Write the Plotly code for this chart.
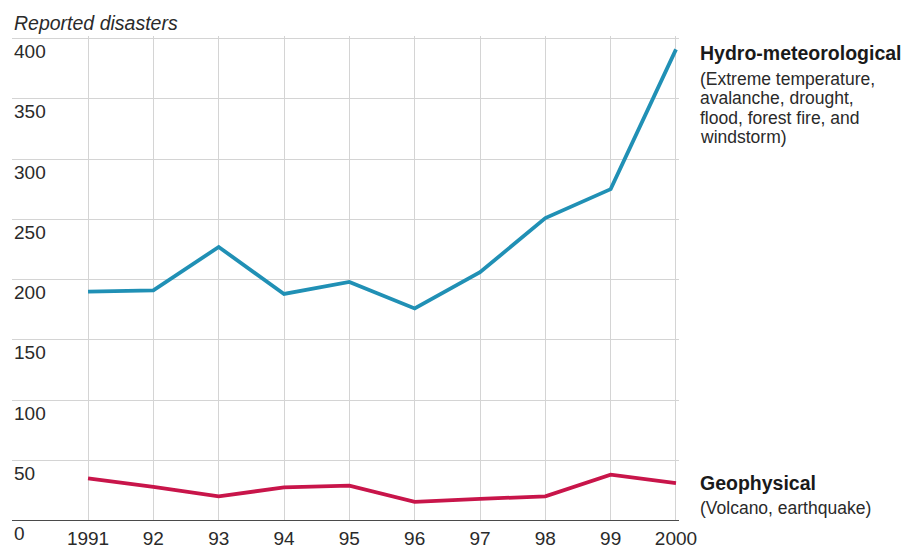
import plotly.graph_objects as go

years = [1991, 1992, 1993, 1994, 1995, 1996, 1997, 1998, 1999, 2000]
year_labels = ["1991", "92", "93", "94", "95", "96", "97", "98", "99", "2000"]
hydro = [190, 191, 227, 188, 198, 176, 206, 251, 275, 391]
geo = [35, 28, 20, 27.5, 29, 15.5, 18, 20, 38, 31]
y_ticks = [0, 50, 100, 150, 200, 250, 300, 350, 400]
y_tick_labels = ["0", "50", "100", "150", "200", "250", "300", "350", "400"]

hydro_title = "Hydro-meteorological"
hydro_sub = ["(Extreme temperature,", "avalanche, drought,", "flood, forest fire, and", "windstorm)"]
geo_title = "Geophysical"
geo_sub = ["(Volcano, earthquake)"]
axis_title = "Reported disasters"

FONT = "Liberation Sans, Arial, Helvetica, sans-serif"
BLUE = "#2090b5"
RED = "#c8154a"

fig = go.Figure()
fig.add_trace(go.Scatter(x=years, y=hydro, mode="lines",
                         line=dict(color=BLUE, width=3.8), showlegend=False,
                         hoverinfo="skip"))
fig.add_trace(go.Scatter(x=years, y=geo, mode="lines",
                         line=dict(color=RED, width=3.8), showlegend=False,
                         hoverinfo="skip"))

annotations = []
# y tick labels, sitting just below each gridline inside the plot
for v, t in zip(y_ticks, y_tick_labels):
    annotations.append(dict(x=0, xref="paper", y=v, yref="y", text=t, showarrow=False,
                            xanchor="left", yanchor="middle", yshift=-13,
                            font=dict(family=FONT, size=19, color="#2a2a2a")))
# axis title
annotations.append(dict(x=0, xref="paper", y=1, yref="paper", text="<i>" + axis_title + "</i>",
                        showarrow=False, xanchor="left", yanchor="middle", yshift=13,
                        font=dict(family=FONT, size=19.5, color="#2a2a2a")))
# series labels
annotations.append(dict(x=1, xref="paper", xshift=19, y=1, yref="paper", yshift=-17,
                        text="<b>" + hydro_title + "</b>", showarrow=False,
                        xanchor="left", yanchor="middle",
                        font=dict(family=FONT, size=19.5, color="#1a1a1a")))
for i, line in enumerate(hydro_sub):
    annotations.append(dict(x=1, xref="paper", xshift=19, y=1, yref="paper",
                            yshift=-43 - 19.4 * i, text=line, showarrow=False,
                            xanchor="left", yanchor="middle",
                            font=dict(family=FONT, size=17.5, color="#2a2a2a")))
annotations.append(dict(x=1, xref="paper", xshift=19, y=0, yref="paper", yshift=38,
                        text="<b>" + geo_title + "</b>", showarrow=False,
                        xanchor="left", yanchor="middle",
                        font=dict(family=FONT, size=19.5, color="#1a1a1a")))
for i, line in enumerate(geo_sub):
    annotations.append(dict(x=1, xref="paper", xshift=19, y=0, yref="paper",
                            yshift=13 - 19.4 * i, text=line, showarrow=False,
                            xanchor="left", yanchor="middle",
                            font=dict(family=FONT, size=17.5, color="#2a2a2a")))

fig.update_layout(
    width=909, height=548,
    margin=dict(l=12, r=230, t=36, b=27, pad=0),
    paper_bgcolor="white", plot_bgcolor="white",
    annotations=annotations,
    hovermode=False,
    xaxis=dict(range=[1989.836, 2000.046], tickvals=years, ticktext=year_labels,
               showgrid=True, gridcolor="#d4d4d4", gridwidth=1, zeroline=False,
               showline=False, ticks="", fixedrange=True, automargin=False,
               ticklabelstandoff=4,
               tickfont=dict(family=FONT, size=19, color="#2a2a2a")),
    yaxis=dict(range=[-0.41, 402.08], tickvals=y_ticks, showticklabels=False,
               showgrid=True, gridcolor="#d4d4d4", gridwidth=1,
               zeroline=True, zerolinecolor="#4a4a4a", zerolinewidth=1.5,
               showline=False, ticks="", fixedrange=True, automargin=False),
)

fig.write_html("out.html", config={"displayModeBar": False, "staticPlot": True},
               post_script="document.body.style.margin='0';document.body.style.padding='0';document.documentElement.style.overflow='hidden';")
